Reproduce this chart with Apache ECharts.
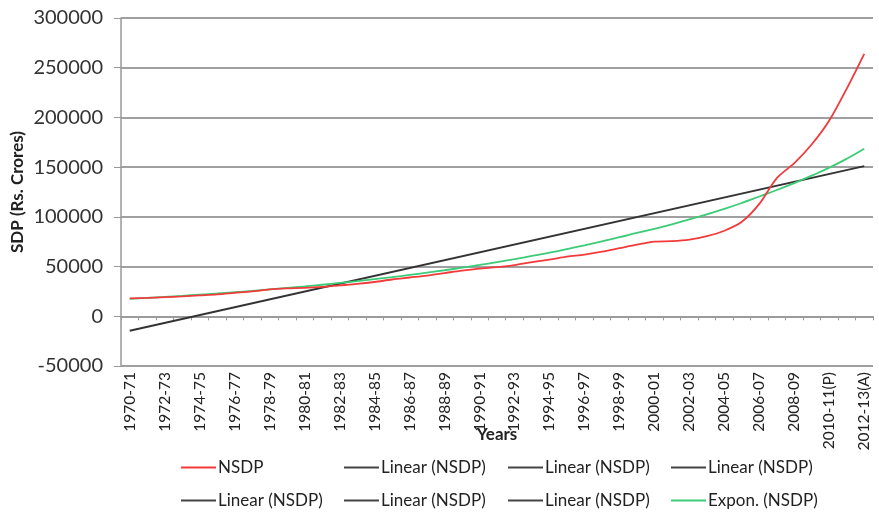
<!DOCTYPE html>
<html>
<head>
<meta charset="utf-8">
<script src="https://cdn.jsdelivr.net/npm/echarts@6/dist/echarts.min.js"></script>
<style>html,body{margin:0;padding:0;background:#fff;}#c{width:879px;height:512px;}</style>
</head>
<body>
<div id="c"></div>
<script>
const categories = ["1970-71","1971-72","1972-73","1973-74","1974-75","1975-76","1976-77","1977-78","1978-79","1979-80",
  "1980-81","1981-82","1982-83","1983-84","1984-85","1985-86","1986-87","1987-88","1988-89","1989-90",
  "1990-91","1991-92","1992-93","1993-94","1994-95","1995-96","1996-97","1997-98","1998-99","1999-00",
  "2000-01","2001-02","2002-03","2003-04","2004-05","2005-06","2006-07","2007-08","2008-09","2009-10",
  "2010-11(P)","2011-12","2012-13(A)"];
const nsdp = [18000,18500,19200,20000,21000,22000,23500,25000,27000,28000,
  28500,29500,31000,32500,34500,37000,39000,41000,43500,46000,
  48000,49500,51500,54500,57000,60000,62000,65000,68500,72000,
  75000,75500,77000,80500,86000,95000,113000,139000,154000,173000,
  197000,229000,264000];
const exponTrend = [17500,18500,19500,20600,21700,22900,24200,25500,27000,28500,
  30000,31700,33500,35300,37300,39400,41600,43900,46300,48900,
  51600,54500,57500,60700,64000,67600,71400,75400,79500,84000,
  88000,92500,97500,102500,108000,114000,120500,127000,134000,141500,
  149500,158500,168500];
const linearStart = -14500;
const linearEnd = 151000;
const linearTrend = categories.map((c, i) => i === 0 ? linearStart : (i === categories.length - 1 ? linearEnd : null));
const yTicks = [-50000, 0, 50000, 100000, 150000, 200000, 250000, 300000];
const legendNames = ["NSDP","Linear (NSDP)","Linear (NSDP)","Linear (NSDP)","Linear (NSDP)","Linear (NSDP)","Linear (NSDP)","Expon. (NSDP)"];

const FONT = 'Lato';
const legendLeft = [176, 339, 503, 666];
const legendTop = [454, 487];
const legends = legendNames.map((n, k) => ({
  data: [n],
  left: legendLeft[k % 4],
  top: legendTop[Math.floor(k / 4)],
  icon: 'rect',
  itemWidth: 35,
  itemHeight: 2,
  selectedMode: false,
  textStyle: { fontFamily: FONT, fontSize: 17, color: '#222', padding: [0,0,0,-3] }
}));

const chart = echarts.init(document.getElementById('c'), null, { renderer: 'canvas' });
chart.setOption({
  animation: false,
  backgroundColor: '#fff',
  legend: legends,
  grid: { left: 121, right: 6, top: 18, bottom: 146, containLabel: false },
  xAxis: {
    type: 'category',
    data: categories,
    name: 'Years',
    nameLocation: 'middle',
    nameGap: 60,
    nameMoveOverlap: false,
    nameTextStyle: { fontFamily: FONT, fontSize: 17, fontWeight: 'bold', color: '#222' },
    axisLine: { onZero: true, lineStyle: { color: '#999', width: 1.5 } },
    axisTick: { show: true, interval: 0, length: 4, lineStyle: { color: '#999' } },
    axisLabel: { interval: 1, rotate: 90, fontFamily: FONT, fontSize: 15.5, color: '#222', margin: 6 },
    splitLine: { show: false }
  },
  yAxis: {
    type: 'value',
    min: yTicks[0],
    max: yTicks[yTicks.length - 1],
    interval: 50000,
    name: 'SDP (Rs. Crores)',
    nameLocation: 'middle',
    nameGap: 95,
    nameMoveOverlap: false,
    nameTextStyle: { fontFamily: FONT, fontSize: 17, fontWeight: 'bold', color: '#222' },
    axisLine: { show: true, onZero: false, lineStyle: { color: '#999', width: 1.5 } },
    axisTick: { show: true, length: 7, lineStyle: { color: '#999' } },
    axisLabel: { fontFamily: FONT, fontSize: 20, color: '#333', margin: 18, formatter: v => String(v) },
    splitLine: { show: true, lineStyle: { color: '#a0a0a0', width: 1.8 } }
  },
  series: [
    { name: 'Linear (NSDP)', type: 'line', data: linearTrend, connectNulls: true, symbol: 'none',
      lineStyle: { color: '#333', width: 2 }, itemStyle: { color: '#444' }, z: 3 },
    { name: 'Expon. (NSDP)', type: 'line', data: exponTrend, symbol: 'none', smooth: true,
      lineStyle: { color: '#3ccb77', width: 1.8 }, itemStyle: { color: '#3ccb77' }, z: 4 },
    { name: 'NSDP', type: 'line', data: nsdp, symbol: 'none', smooth: 0.3,
      lineStyle: { color: '#f23a3a', width: 1.8 }, itemStyle: { color: '#f23a3a' }, z: 5 }
  ]
});
</script>
</body>
</html>
